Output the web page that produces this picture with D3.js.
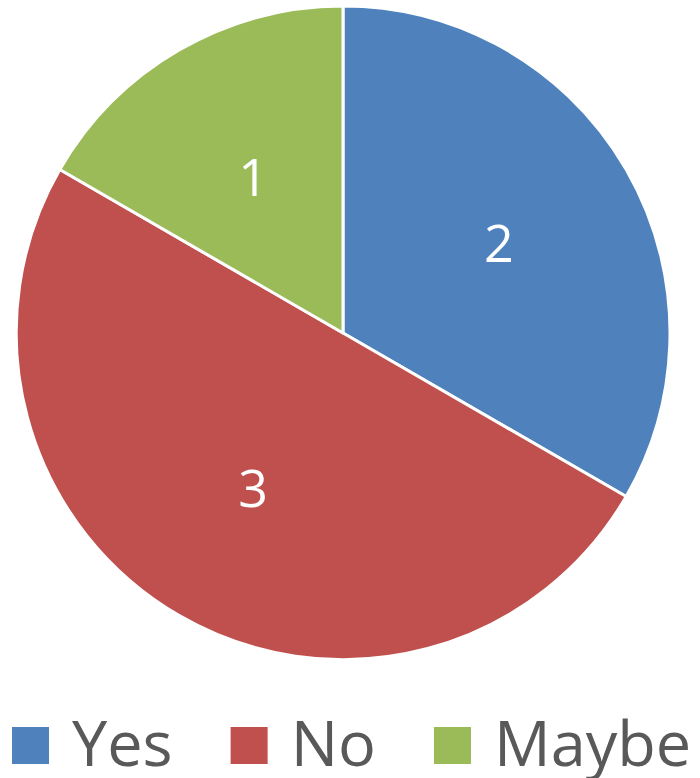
<!DOCTYPE html>
<html>
<head>
<meta charset="utf-8">
<script src="https://cdn.jsdelivr.net/npm/d3@7"></script>
<style>
    html, body { margin: 0; padding: 0; background: #fff; }
    svg { display: block; font-family: "Open Sans", sans-serif; }
</style>
</head>
<body>
<div id="chart"></div>
<script>
const categories = ["Yes", "No", "Maybe"];
const values = [2, 3, 1];
const colors = ["#4F81BD", "#C0504D", "#9BBB59"];

const width = 700, height = 778;
const cx = 343, cy = 333, radius = 327;

const svg = d3.select("#chart").append("svg")
    .attr("width", width)
    .attr("height", height);

const data = categories.map((c, i) => ({ name: c, value: values[i], color: colors[i] }));

const pie = d3.pie().value(d => d.value).sort(null);
const arc = d3.arc().innerRadius(0).outerRadius(radius);
const labelArc = d3.arc().innerRadius(radius * 0.55).outerRadius(radius * 0.55);

const g = svg.append("g").attr("transform", `translate(${cx},${cy})`);

const slices = g.selectAll("g.slice")
    .data(pie(data))
    .enter().append("g")
    .attr("class", "slice");

slices.append("path")
    .attr("d", arc)
    .style("fill", d => d.data.color)
    .style("stroke", "#fff")
    .style("stroke-width", 3)
    .style("stroke-linejoin", "round");

slices.append("text")
    .attr("transform", d => `translate(${labelArc.centroid(d)})`)
    .attr("text-anchor", "middle")
    .attr("dy", "0.36em")
    .style("fill", "#fff")
    .style("font-size", "52px")
    .text(d => d.data.value);

// legend along the bottom
const legend = svg.append("g").attr("class", "legend");
let x = 12;
data.forEach(d => {
    legend.append("rect")
        .attr("x", x)
        .attr("y", 727)
        .attr("width", 37)
        .attr("height", 37)
        .style("fill", d.color);
    const t = legend.append("text")
        .attr("x", x + 37 + 23)
        .attr("y", 766)
        .style("font-size", "63px")
        .style("fill", "#595959")
        .text(d.name);
    x += 37 + 23 + t.node().getComputedTextLength() + 58;
});
</script>
</body>
</html>
